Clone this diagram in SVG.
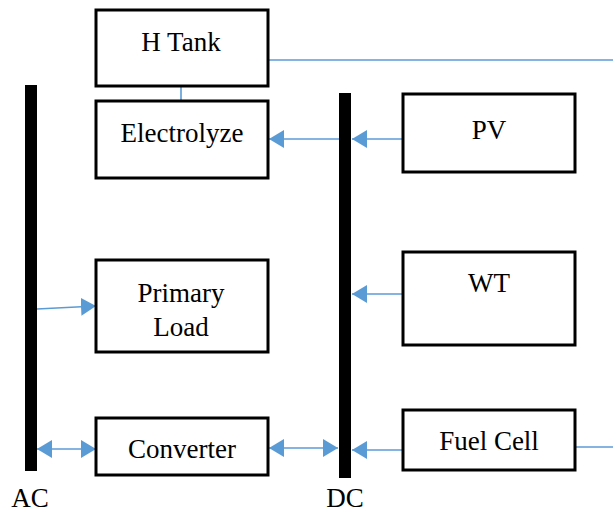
<svg xmlns="http://www.w3.org/2000/svg" width="613" height="514" viewBox="0 0 613 514">
<style>
.box{fill:#fff;stroke:#000;stroke-width:3}
.bar{fill:#000}
.t{font-family:'Liberation Serif','DejaVu Serif',serif;font-size:27px;fill:#000;text-anchor:middle}
.c{stroke:#5B9BD5;stroke-width:1.6;fill:none}
</style>
<defs>
<marker id="ah" viewBox="0 0 15 18" refX="15" refY="9" markerWidth="15" markerHeight="18" markerUnits="userSpaceOnUse" orient="auto-start-reverse">
<path d="M0,0 L15,9 L0,18 Z" fill="#5B9BD5"/>
</marker>
</defs>
<rect width="613" height="514" fill="#fff"/>
<g id="connectors">
<line class="c" x1="268" y1="60" x2="613" y2="60"/>
<line class="c" x1="181" y1="86" x2="181" y2="101"/>
<line class="c" x1="403" y1="139" x2="352" y2="139" marker-end="url(#ah)"/>
<line class="c" x1="339" y1="139" x2="269" y2="139" marker-end="url(#ah)"/>
<line class="c" x1="37" y1="309" x2="96" y2="306" marker-end="url(#ah)"/>
<line class="c" x1="403" y1="294" x2="352" y2="294" marker-end="url(#ah)"/>
<line class="c" x1="37" y1="449" x2="96" y2="449" marker-start="url(#ah)" marker-end="url(#ah)"/>
<line class="c" x1="269" y1="448" x2="338" y2="448" marker-start="url(#ah)" marker-end="url(#ah)"/>
<line class="c" x1="403" y1="450" x2="352" y2="450" marker-end="url(#ah)"/>
<line class="c" x1="575" y1="447" x2="613" y2="447"/>
</g>
<g id="ac-bus"><rect class="bar" x="25" y="85" width="12" height="386"/><text class="t" x="30" y="507">AC</text></g>
<g id="dc-bus"><rect class="bar" x="339" y="93" width="12" height="385"/><text class="t" x="345" y="507">DC</text></g>
<g id="htank"><rect class="box" x="96" y="10" width="172" height="76"/><text class="t" x="181" y="51">H Tank</text></g>
<g id="electrolyze"><rect class="box" x="96" y="101" width="172" height="77"/><text class="t" x="182" y="142">Electrolyze</text></g>
<g id="primary-load"><rect class="box" x="96" y="260" width="172" height="92"/><text class="t" x="181" y="302">Primary</text><text class="t" x="181" y="336">Load</text></g>
<g id="converter"><rect class="box" x="96" y="418" width="172" height="57"/><text class="t" x="182" y="458">Converter</text></g>
<g id="pv"><rect class="box" x="403" y="94" width="172" height="78"/><text class="t" x="489" y="139">PV</text></g>
<g id="wt"><rect class="box" x="403" y="252" width="172" height="93"/><text class="t" x="489" y="292">WT</text></g>
<g id="fuel-cell"><rect class="box" x="403" y="410" width="172" height="60"/><text class="t" x="489" y="450">Fuel Cell</text></g>
</svg>
